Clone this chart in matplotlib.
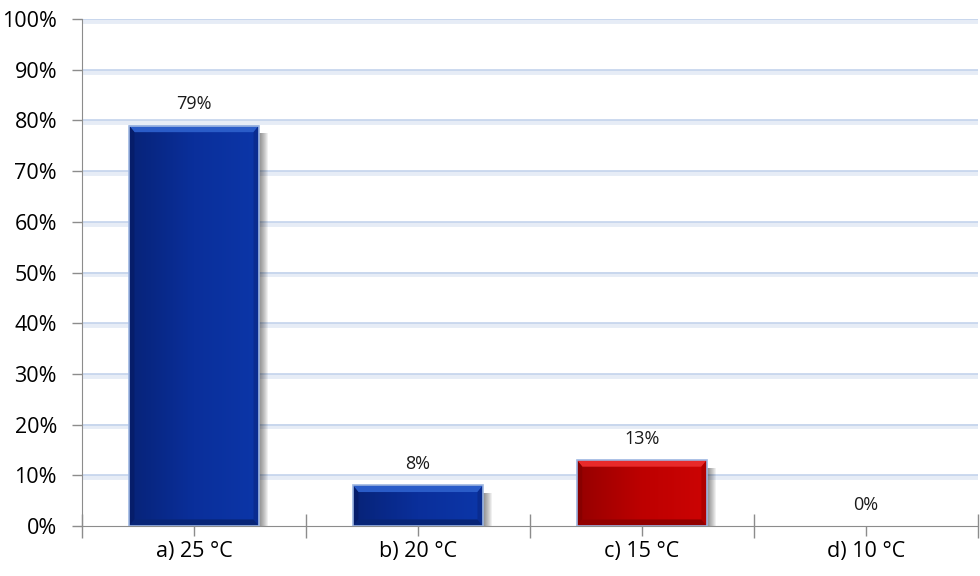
import numpy as np
import matplotlib.pyplot as plt
from matplotlib.patches import Polygon
from matplotlib.colors import LinearSegmentedColormap
from matplotlib.ticker import FixedLocator, PercentFormatter

# data
categories = ['a) 25 °C', 'b) 20 °C', 'c) 15 °C', 'd) 10 °C']
values = [79, 8, 13, 0]
bar_kinds = ['blue', 'blue', 'red', 'blue']

plt.rcParams['font.family'] = ['Open Sans', 'DejaVu Sans']

fig = plt.figure(figsize=(9.8, 5.76), dpi=100)
ax = fig.add_axes([0.0837, 0.0868, 0.914, 0.880])

ax.set_xlim(-0.5, len(categories) - 0.5)
ax.set_ylim(0, 100)

# gridlines with a soft blue glow
for yv in range(10, 101, 10):
    ax.axhline(yv - 0.35, color='#e6ecf6', lw=3.5, zorder=0.5)
    ax.axhline(yv, color='#c3d3ec', lw=1.2, zorder=0.6)

palette = {
    # main ramp (left -> right), top bevel, left bevel, right bevel, bottom bevel
    'blue': (['#072378', '#0a2f9b', '#0c36a8'], '#2a5cc8', '#061d6a', '#0a2c90', '#082577'),
    'red': (['#960000', '#bd0000', '#cc0404'], '#e82a2a', '#880000', '#b00000', '#920000'),
}

width = 0.58
x = np.arange(len(categories))
for xi, v, kind in zip(x, values, bar_kinds):
    if v <= 0:
        continue
    ramp, c_top, c_left, c_right, c_bot = palette[kind]
    x0, x1 = xi - width / 2, xi + width / 2
    # soft shadow to the right
    for k in range(9):
        ax.add_patch(plt.Rectangle((x1, 0), 0.0045 * (k + 1), v - 1.5,
                                   color='#000000', alpha=0.06, lw=0, zorder=1))
    patch = ax.bar(xi, v, width=width, color=ramp[1], lw=0, zorder=2)[0]
    cmap = LinearSegmentedColormap.from_list(kind, ramp)
    grad = np.linspace(0, 1, 200)[None, :].repeat(2, axis=0)
    im = ax.imshow(grad, cmap=cmap, aspect='auto', origin='lower',
                   extent=[x0, x1, 0, v], zorder=3, vmin=0, vmax=1)
    im.set_clip_path(patch)
    bx, by = 0.024, min(1.3, v * 0.2)
    ax.add_patch(Polygon([(x0, v), (x1, v), (x1 - bx, v - by), (x0 + bx, v - by)],
                         closed=True, color=c_top, lw=0, zorder=4))
    ax.add_patch(Polygon([(x0, 0), (x0, v), (x0 + bx, v - by), (x0 + bx, by)],
                         closed=True, color=c_left, lw=0, zorder=4))
    ax.add_patch(Polygon([(x1, 0), (x1, v), (x1 - bx, v - by), (x1 - bx, by)],
                         closed=True, color=c_right, lw=0, zorder=4))
    ax.add_patch(Polygon([(x0, 0), (x1, 0), (x1 - bx, by), (x0 + bx, by)],
                         closed=True, color=c_bot, lw=0, zorder=4))
    ax.bar(xi, v, width=width, fill=False, edgecolor='#9db6e2', lw=1.2, zorder=5)

for xi, v in zip(x, values):
    ax.text(xi, v + 4.2, f'{v}%', ha='center', va='center',
            fontsize=13, color='#1a1a1a', zorder=6)

ax.set_xticks(x)
ax.set_xticklabels(categories, fontsize=15.5)
ax.xaxis.set_minor_locator(FixedLocator(np.arange(-0.5, len(categories), 1.0)))
ax.tick_params(axis='x', which='major', length=7, width=1, color='#8c8c8c', pad=4)
ax.tick_params(axis='x', which='minor', length=17, width=1, color='#8c8c8c',
               direction='inout')

ax.set_yticks(range(0, 101, 10))
ax.yaxis.set_major_formatter(PercentFormatter(decimals=0))
ax.tick_params(axis='y', length=7, width=1, color='#8c8c8c', labelsize=15.5, pad=11)

for s in ['top', 'right']:
    ax.spines[s].set_visible(False)
for s in ['left', 'bottom']:
    ax.spines[s].set_color('#8c8c8c')

fig.savefig('out.png', dpi=100)
